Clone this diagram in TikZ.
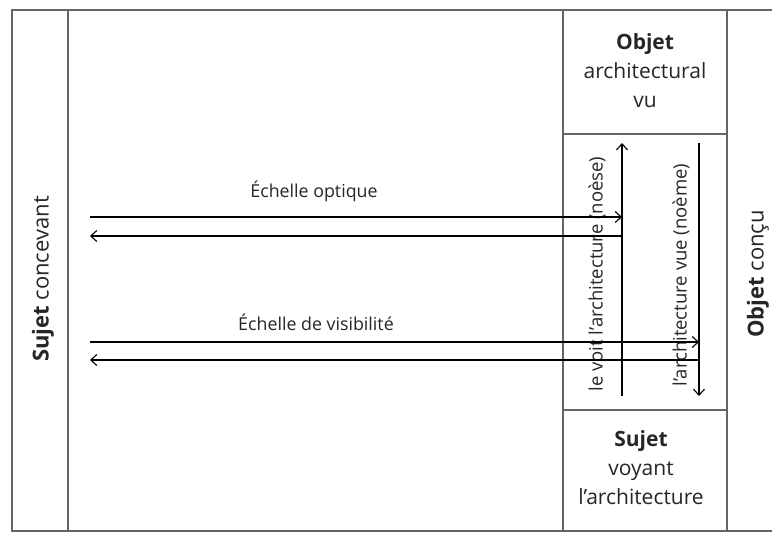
\documentclass[tikz,border=0pt]{standalone}
\usepackage{fontspec}
\setmainfont{Open Sans}
\usetikzlibrary{arrows.meta}
\begin{document}
\begin{tikzpicture}[x=1pt,y=-1pt,
  frame/.style={draw=black!60, line width=1.6pt},
  arr/.style={draw=black, line width=1.1pt, -{Straight Barb[length=6pt,width=11pt]}},
  lbl/.style={font=\fontsize{17.8}{20}\selectfont, inner sep=0pt, text=black!85},
  vlbl/.style={font=\fontsize{18.5}{20}\selectfont, inner sep=0pt, text=black!85},
  side/.style={font=\fontsize{22}{24}\selectfont, inner sep=0pt, text=black!85},
  box/.style={font=\fontsize{21}{29}\selectfont, align=center, inner sep=0pt, text=black!85}]
\useasboundingbox (0,0) rectangle (772,533);
\fill[white] (0,0) rectangle (772,533);
% frame lines
\draw[frame] (772,10) -- (12,10) -- (12,531) -- (772,531);
\draw[frame] (68,10) -- (68,531);
\draw[frame] (563,10) -- (563,531);
\draw[frame] (727,10) -- (727,531);
\draw[frame] (563,134) -- (727,134);
\draw[frame] (563,410) -- (727,410);
% texts
\node[box] (ov) at (645,71) {\textbf{Objet}\\architectural\\vu};
\node[box] (sv) at (641,468) {\textbf{Sujet}\\voyant\\l’architecture};
\node[side, rotate=90] (sc) at (43,279) {\textbf{Sujet} concevant};
\node[side, rotate=90] (oc) at (758,274) {\textbf{Objet} conçu};
\node[vlbl, rotate=90] (nv) at (597,274) {le voit l’architecture (noèse)};
\node[vlbl, rotate=90] (nm) at (681,275) {l’architecture vue (noème)};
\node[lbl] (eo) at (314,191) {Échelle optique};
\node[lbl] (ev) at (316,322) {Échelle de visibilité};
% arrow end points
\coordinate (a1s) at (90,217);  \coordinate (a1e) at (622,217);
\coordinate (a2s) at (622,236); \coordinate (a2e) at (90,236);
\coordinate (a3s) at (90,342);  \coordinate (a3e) at (699,342);
\coordinate (a4s) at (699,360); \coordinate (a4e) at (90,360);
\coordinate (ups) at (622,396); \coordinate (upe) at (622,143);
\coordinate (dns) at (699,143); \coordinate (dne) at (699,396);
\draw[arr] (a1s) -- (a1e);
\draw[arr] (a2s) -- (a2e);
\draw[arr] (a3s) -- (a3e);
\draw[arr] (a4s) -- (a4e);
\draw[arr] (ups) -- (upe);
\draw[arr] (dns) -- (dne);
\end{tikzpicture}
\end{document}
